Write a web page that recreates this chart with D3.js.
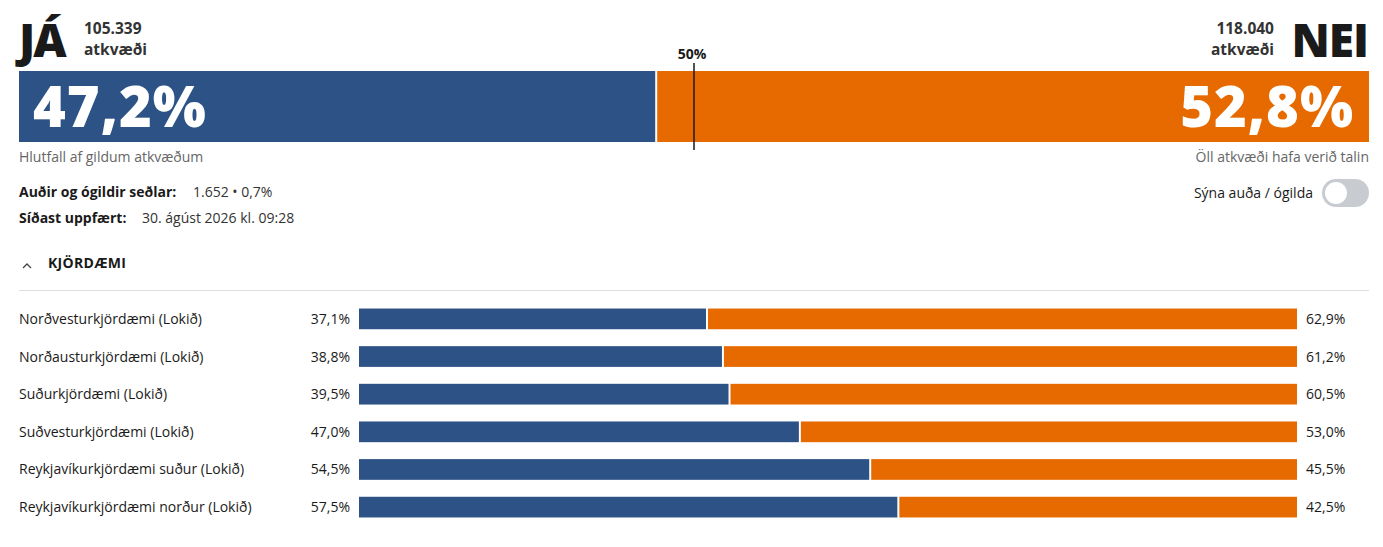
<!DOCTYPE html>
<html><head><meta charset="utf-8">
<script src="https://cdn.jsdelivr.net/npm/d3@7"></script>
<style>body{margin:0;background:#fff}svg{display:block}</style>
</head><body>
<svg id="chart" width="1383" height="547"></svg>
<script>
const totalLabels = ["105.339", "118.040"];
const mainShare = [47.2, 52.8];
const districts = [
  "Norðvesturkjördæmi (Lokið)",
  "Norðausturkjördæmi (Lokið)",
  "Suðurkjördæmi (Lokið)",
  "Suðvesturkjördæmi (Lokið)",
  "Reykjavíkurkjördæmi suður (Lokið)",
  "Reykjavíkurkjördæmi norður (Lokið)"
];
const yesShare = [37.1, 38.8, 39.5, 47.0, 54.5, 57.5];
const noShare = [62.9, 61.2, 60.5, 53.0, 45.5, 42.5];

const blue = "#2c5286", orange = "#e66a00", ink = "#1a1a1a", grey = "#666";
const font = "'Open Sans', Roboto, sans-serif";
const fmt = v => v.toFixed(1).replace(".", ",") + "%";

const svg = d3.select("#chart").style("font-family", font);

// main bar
const x = d3.scaleLinear().domain([0, 100]).range([19, 1369]);
svg.append("rect").attr("x", x(0)).attr("y", 71).attr("width", x(mainShare[0]) - x(0) - 1)
  .attr("height", 71).attr("fill", blue);
svg.append("rect").attr("x", x(mainShare[0]) + 1).attr("y", 71).attr("width", x(100) - x(mainShare[0]) - 1)
  .attr("height", 71).attr("fill", orange);
svg.append("line").attr("x1", x(50)).attr("x2", x(50)).attr("y1", 63).attr("y2", 150)
  .attr("stroke", ink).attr("stroke-width", 1.5);
svg.append("text").attr("x", x(50) - 2).attr("y", 59).attr("text-anchor", "middle")
  .attr("font-size", 14).attr("font-weight", 700).attr("fill", ink).text("50%");

const big = (xx, anchor, t) => svg.append("text").attr("x", xx).attr("y", 127).attr("text-anchor", anchor)
  .attr("fill", "#fff").attr("font-size", 56).attr("font-weight", 800).attr("letter-spacing", 1).text(t);
big(33, "start", fmt(mainShare[0]));
big(1354, "end", fmt(mainShare[1]));

// headings
svg.append("text").attr("x", 19).attr("y", 57).attr("font-size", 46).attr("font-weight", 800)
  .attr("letter-spacing", -2).attr("fill", ink).text("JÁ");
svg.append("text").attr("x", 1368).attr("y", 57).attr("text-anchor", "end").attr("font-size", 46)
  .attr("font-weight", 800).attr("letter-spacing", -1).attr("fill", ink).text("NEI");
const sub = (xx, yy, anchor, t) => svg.append("text").attr("x", xx).attr("y", yy).attr("text-anchor", anchor)
  .attr("font-size", 15.5).attr("font-weight", 700).attr("fill", "#333").text(t);
sub(84, 34, "start", totalLabels[0]);
sub(84, 55, "start", "atkvæði");
sub(1274, 34, "end", totalLabels[1]);
sub(1274, 55, "end", "atkvæði");

svg.append("text").attr("x", 19).attr("y", 162).attr("font-size", 14).attr("fill", grey).text("Hlutfall af gildum atkvæðum");
svg.append("text").attr("x", 1369).attr("y", 162).attr("text-anchor", "end").attr("font-size", 14).attr("fill", grey).text("Öll atkvæði hafa verið talin");

const info = svg.append("g").attr("font-size", 14).attr("fill", ink);
info.append("text").attr("x", 19).attr("y", 197).attr("font-weight", 700).text("Auðir og ógildir seðlar:");
info.append("text").attr("x", 193).attr("y", 197).attr("fill", "#333").text("1.652 • 0,7%");
info.append("text").attr("x", 19).attr("y", 223).attr("font-weight", 700).text("Síðast uppfært:");
info.append("text").attr("x", 142).attr("y", 223).attr("fill", "#333").text("30. ágúst 2026 kl. 09:28");

svg.append("text").attr("x", 1313).attr("y", 198).attr("text-anchor", "end").attr("font-size", 14).attr("fill", ink).text("Sýna auða / ógilda");
svg.append("rect").attr("x", 1322).attr("y", 179).attr("width", 47).attr("height", 28).attr("rx", 14).attr("fill", "#c8cbd0");
svg.append("circle").attr("cx", 1336).attr("cy", 193).attr("r", 11).attr("fill", "#fff");

// section header
svg.append("path").attr("d", "M23,268 L27,264 L31,268").attr("fill", "none").attr("stroke", "#444").attr("stroke-width", 1.3);
svg.append("text").attr("x", 48).attr("y", 268).attr("font-size", 14).attr("font-weight", 700)
  .attr("letter-spacing", 0.3).attr("fill", ink).text("KJÖRDÆMI");
svg.append("line").attr("x1", 19).attr("x2", 1369).attr("y1", 290.5).attr("y2", 290.5).attr("stroke", "#ddd");

// district rows
const y = d3.scaleBand().domain(districts).range([301, 525]).paddingInner(0.45).paddingOuter(0.2);
const xs = d3.scaleLinear().domain([0, 100]).range([359, 1297]);
const rows = svg.selectAll("g.row").data(districts).join("g").attr("class", "row");
rows.append("rect").attr("x", xs(0)).attr("y", d => y(d)).attr("height", y.bandwidth())
  .attr("width", (d, i) => xs(yesShare[i]) - xs(0) - 1).attr("fill", blue);
rows.append("rect").attr("x", (d, i) => xs(yesShare[i]) + 1).attr("y", d => y(d)).attr("height", y.bandwidth())
  .attr("width", (d, i) => xs(100) - xs(yesShare[i]) - 1).attr("fill", orange);
const mid = d => y(d) + y.bandwidth() / 2 + 5;
rows.append("text").attr("x", 19).attr("y", mid).attr("font-size", 14).attr("fill", ink).text(d => d);
rows.append("text").attr("x", 350).attr("y", mid).attr("text-anchor", "end").attr("font-size", 14).attr("fill", ink).text((d, i) => fmt(yesShare[i]));
rows.append("text").attr("x", 1306).attr("y", mid).attr("font-size", 14).attr("fill", ink).text((d, i) => fmt(noShare[i]));
</script>
</body></html>
